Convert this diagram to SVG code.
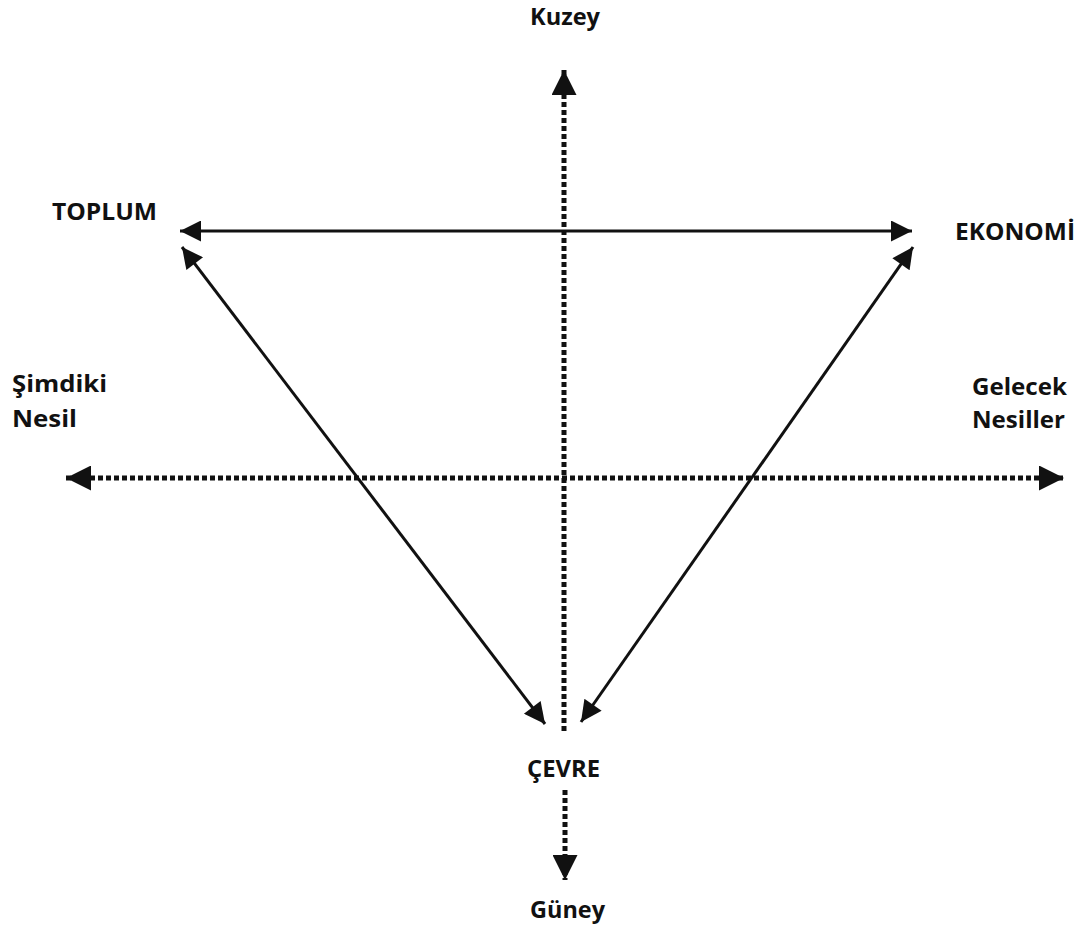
<svg xmlns="http://www.w3.org/2000/svg" width="1084" height="947" viewBox="0 0 1084 947">
<style>
.t{font-family:"Open Sans","Liberation Sans",sans-serif;font-weight:bold;font-size:24px;fill:#111}
.s{stroke:#111;stroke-width:3;fill:none}
.d{stroke:#111;stroke-width:5;fill:none;stroke-dasharray:5 3}
</style>
<defs>
<marker id="a" viewBox="0 0 10 10" refX="10" refY="5" markerWidth="8" markerHeight="7" markerUnits="strokeWidth" orient="auto-start-reverse"><path d="M0,0 L10,5 L0,10 Z" fill="#111"/></marker>
<marker id="b" viewBox="0 0 10 10" refX="10" refY="5" markerWidth="5" markerHeight="5" markerUnits="strokeWidth" orient="auto-start-reverse"><path d="M0,0 L10,5 L0,10 Z" fill="#111"/></marker>
</defs>
<g id="connectors">
<line class="d" x1="564" y1="70" x2="564" y2="732" marker-start="url(#b)"/>
<line class="d" x1="565" y1="790" x2="565" y2="880" marker-end="url(#b)"/>
<line class="d" x1="66" y1="478" x2="1064" y2="478" marker-start="url(#b)" marker-end="url(#b)"/>
<line class="s" x1="180" y1="231" x2="912" y2="231" marker-start="url(#a)" marker-end="url(#a)"/>
<line class="s" x1="182" y1="247" x2="545" y2="724" marker-start="url(#a)" marker-end="url(#a)"/>
<line class="s" x1="913" y1="247" x2="581" y2="722" marker-start="url(#a)" marker-end="url(#a)"/>
</g>
<g id="kuzey"><text class="t" x="530" y="25" textLength="70" lengthAdjust="spacingAndGlyphs">Kuzey</text></g>
<g id="toplum"><text class="t" x="52" y="220" textLength="105" lengthAdjust="spacingAndGlyphs">TOPLUM</text></g>
<g id="ekonomi"><text class="t" x="955" y="240" textLength="120" lengthAdjust="spacingAndGlyphs">EKONOMİ</text></g>
<g id="simdiki"><text class="t" x="12" y="392" textLength="95" lengthAdjust="spacingAndGlyphs">Şimdiki</text><text class="t" x="12" y="427" textLength="65" lengthAdjust="spacingAndGlyphs">Nesil</text></g>
<g id="gelecek"><text class="t" x="972" y="395" textLength="95" lengthAdjust="spacingAndGlyphs">Gelecek</text><text class="t" x="972" y="428" textLength="93" lengthAdjust="spacingAndGlyphs">Nesiller</text></g>
<g id="cevre"><text class="t" x="527" y="777" textLength="73" lengthAdjust="spacingAndGlyphs">ÇEVRE</text></g>
<g id="guney"><text class="t" x="530" y="918" textLength="75" lengthAdjust="spacingAndGlyphs">Güney</text></g>
</svg>
